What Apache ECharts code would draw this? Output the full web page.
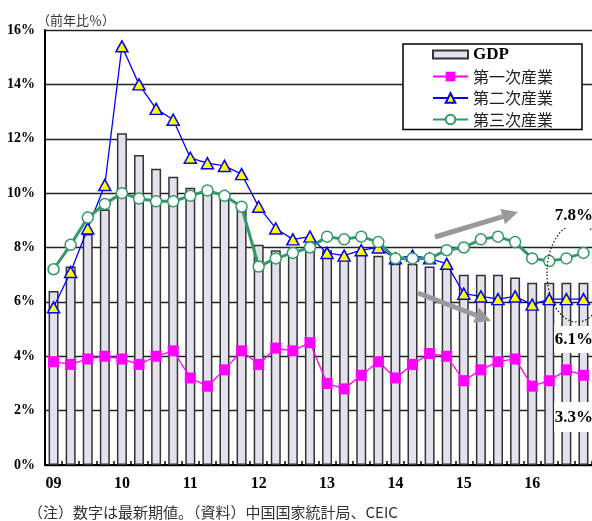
<!DOCTYPE html>
<html>
<head>
<meta charset="utf-8">
<script src="https://cdn.jsdelivr.net/npm/echarts@6/dist/echarts.min.js"></script>
<style>
html,body{margin:0;padding:0;background:#fff;}
#chart{width:592px;height:521px;}
</style>
</head>
<body>
<div id="chart"></div>
<script>
// Quarterly categories, 2009 Q1 – 2016 Q4
const quarters = [
  '09Q1','09Q2','09Q3','09Q4','10Q1','10Q2','10Q3','10Q4',
  '11Q1','11Q2','11Q3','11Q4','12Q1','12Q2','12Q3','12Q4',
  '13Q1','13Q2','13Q3','13Q4','14Q1','14Q2','14Q3','14Q4',
  '15Q1','15Q2','15Q3','15Q4','16Q1','16Q2','16Q3','16Q4'
];
// Year tick labels shown at each first quarter
const yearLabels = ['09','10','11','12','13','14','15','16'];

// Year-on-year growth (%)
const gdp = [
  6.4, 7.3, 8.5, 9.4, 12.2, 11.4, 10.9, 10.6,
  10.2, 10.1, 9.9, 9.5, 8.1, 7.9, 7.8, 7.9,
  7.9, 7.6, 7.8, 7.7, 7.4, 7.4, 7.3, 7.3,
  7.0, 7.0, 7.0, 6.9, 6.7, 6.7, 6.7, 6.7
];
const primary = [
  3.8, 3.7, 3.9, 4.0, 3.9, 3.7, 4.0, 4.2,
  3.2, 2.9, 3.5, 4.2, 3.7, 4.3, 4.2, 4.5,
  3.0, 2.8, 3.3, 3.8, 3.2, 3.7, 4.1, 4.0,
  3.1, 3.5, 3.8, 3.9, 2.9, 3.1, 3.5, 3.3
];
const secondary = [
  5.8, 7.1, 8.7, 10.3, 15.4, 14.0, 13.1, 12.7,
  11.3, 11.1, 11.0, 10.7, 9.5, 8.7, 8.3, 8.4,
  7.8, 7.7, 7.9, 8.0, 7.6, 7.7, 7.6, 7.4,
  6.3, 6.2, 6.1, 6.2, 5.9, 6.1, 6.1, 6.1
];
const tertiary = [
  7.2, 8.1, 9.1, 9.6, 10.0, 9.8, 9.7, 9.7,
  9.9, 10.1, 9.9, 9.5, 7.3, 7.6, 7.8, 8.0,
  8.4, 8.3, 8.4, 8.2, 7.6, 7.6, 7.6, 7.9,
  8.0, 8.3, 8.4, 8.2, 7.6, 7.5, 7.6, 7.8
];

const serif = 'Liberation Serif';
const jp = 'Noto Sans CJK JP';
const last = arr => arr[arr.length - 1];

// Thick grey trend arrow: shaft plus triangular head
function arrow(x1, y1, x2, y2) {
  const dx = x2 - x1, dy = y2 - y1, L = Math.hypot(dx, dy);
  const ux = dx / L, uy = dy / L, hl = 16, hw = 8;
  const bx = x2 - ux * hl, by = y2 - uy * hl;
  return [
    { type: 'line', z: 20, shape: { x1: x1, y1: y1, x2: bx, y2: by },
      style: { stroke: '#999', lineWidth: 5 } },
    { type: 'polygon', z: 20,
      shape: { points: [[x2, y2], [bx - uy * hw, by + ux * hw], [bx + uy * hw, by - ux * hw]] },
      style: { fill: '#999' } }
  ];
}

// Boxed value callout at the right edge
function callout(text, y, boxTop, boxH) {
  return [
    { type: 'rect', z: 30, shape: { x: 554, y: boxTop, width: 45, height: boxH },
      style: { fill: '#fff' } },
    { type: 'text', z: 31, x: 593, y: y,
      style: { text: text, align: 'right', verticalAlign: 'middle',
               font: 'bold 17px "' + serif + '"', fill: '#000' } }
  ];
}

const chart = echarts.init(document.getElementById('chart'));

const option = {
  animation: false,
  backgroundColor: '#fff',
  grid: { left: 45, right: -3, top: 30, bottom: 56 },
  xAxis: {
    type: 'category',
    data: quarters,
    axisLine: { lineStyle: { color: '#000', width: 2 } },
    axisTick: { show: true, inside: true, length: 4, interval: 0,
                lineStyle: { color: '#000', width: 1.5 } },
    axisLabel: {
      interval: 3, margin: 11,
      fontFamily: serif, fontWeight: 'bold', fontSize: 16, color: '#000',
      formatter: (v, i) => yearLabels[Math.floor(i / 4)]
    },
    splitLine: { show: false }
  },
  yAxis: {
    type: 'value',
    min: 0, max: 16, interval: 2,
    axisLine: { show: true, lineStyle: { color: '#000', width: 2 } },
    axisTick: { show: false },
    axisLabel: { formatter: '{value}%', margin: 10,
                 fontFamily: serif, fontWeight: 'bold', fontSize: 14, color: '#000' },
    splitLine: { lineStyle: { color: '#222', width: 1.3 } }
  },
  legend: {
    orient: 'vertical',
    left: 403, top: 44,
    itemWidth: 35, itemHeight: 12, itemGap: 5.5,
    padding: [2, 29, 2, 29],
    borderColor: '#000', borderWidth: 1.5, backgroundColor: '#fff',
    symbolKeepAspect: true,
    data: [
      { name: 'GDP', icon: 'path://M0,0L35,0L35,8L0,8Z' },
      '第一次産業', '第二次産業', '第三次産業'
    ],
    formatter: n => n === 'GDP' ? '{g|GDP}' : '{j|' + n + '}',
    textStyle: {
      rich: {
        g: { fontFamily: serif, fontWeight: 'bold', fontSize: 17, color: '#000' },
        j: { fontFamily: jp, fontSize: 16, color: '#222' }
      }
    }
  },
  series: [
    {
      name: 'GDP', type: 'bar', data: gdp, barWidth: 10,
      itemStyle: { color: '#e4e0ec', borderColor: '#333', borderWidth: 1.5 }
    },
    {
      name: '第一次産業', type: 'line', data: primary,
      symbol: 'rect', symbolSize: 11,
      lineStyle: { color: '#ff00ff', width: 1.3 },
      itemStyle: { color: '#ff00ff', borderColor: '#ff00ff', borderWidth: 0 }
    },
    {
      name: '第二次産業', type: 'line', data: secondary,
      symbol: 'triangle', symbolSize: [12, 11],
      lineStyle: { color: '#0000ff', width: 1.3 },
      itemStyle: { color: '#ffff00', borderColor: '#0000ff', borderWidth: 1.5 }
    },
    {
      name: '第三次産業', type: 'line', data: tertiary,
      symbol: 'circle', symbolSize: 11,
      lineStyle: { color: '#339966', width: 3 },
      itemStyle: { color: '#fff', borderColor: '#339966', borderWidth: 1.5 }
    }
  ],
  graphic: [
    { type: 'text', x: 37, y: 20,
      style: { text: '（前年比％）', font: '13px "' + jp + '"', fill: '#333', verticalAlign: 'middle' } },
    { type: 'text', x: 28, y: 512,
      style: { text: '（注）数字は最新期値。（資料）中国国家統計局、CEIC',
               font: '15px "' + jp + '"', fill: '#333', verticalAlign: 'middle' } },
    ...arrow(435, 237, 518, 212),
    ...arrow(418, 293, 491, 321),
    { type: 'ellipse', z: 25, shape: { cx: 577, cy: 273, rx: 30, ry: 49 },
      style: { fill: null, stroke: '#111', lineWidth: 1.2, lineDash: [1.5, 2] } },
    ...callout(last(tertiary).toFixed(1) + '%', 216, 204, 24),
    ...callout(last(secondary).toFixed(1) + '%', 340, 326, 27),
    ...callout(last(primary).toFixed(1) + '%', 418, 402, 30)
  ]
};

chart.setOption(option);
</script>
</body>
</html>
